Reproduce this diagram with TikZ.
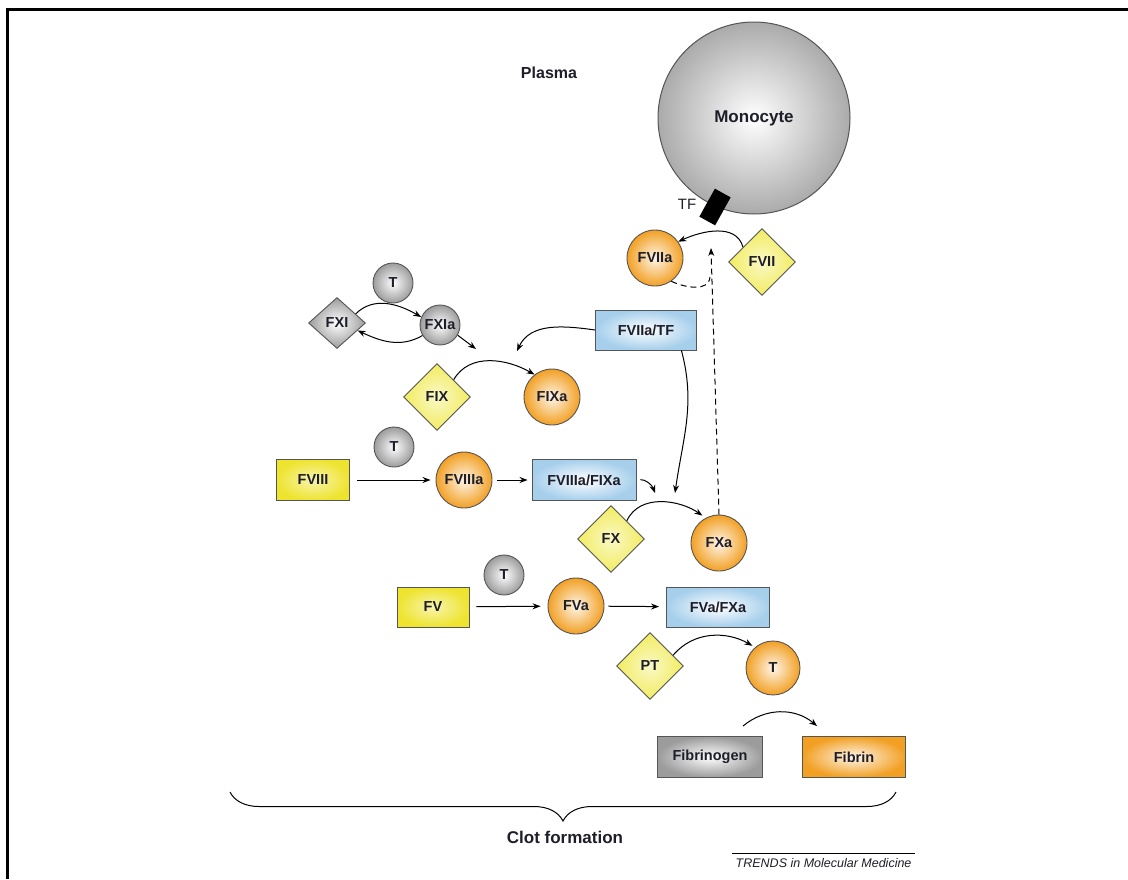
\documentclass[tikz,border=0pt]{standalone}
\usepackage{fontspec}
\setmainfont{Liberation Sans}
\usetikzlibrary{shapes.geometric,arrows.meta,decorations.pathreplacing}
\definecolor{yel}{HTML}{EEE430}
\definecolor{yeld}{HTML}{F2EC60}
\definecolor{org}{HTML}{F2A024}
\definecolor{blu}{HTML}{A6CFEC}
\definecolor{gry}{HTML}{9C9C9C}
\definecolor{edge}{HTML}{555555}
\definecolor{ink}{HTML}{1E1E2A}
\tikzset{
  lbl/.style={font=\fontsize{14.5}{16}\selectfont\bfseries, text=ink},
  ocirc/.style={lbl, circle, draw=edge, line width=0.9pt, minimum size=56pt, inner sep=0pt, inner color=org!10, outer color=org},
  gcirc/.style={lbl, circle, draw=edge, line width=0.9pt, minimum size=40pt, inner sep=0pt, inner color=white, outer color=gry},
  ybox/.style={lbl, rectangle, draw=edge, line width=0.9pt, minimum width=73pt, minimum height=41pt, inner color=yel!40, outer color=yel},
  bbox/.style={lbl, rectangle, draw=edge, line width=0.9pt, minimum width=103pt, minimum height=40pt, inner color=white, outer color=blu},
  ydia/.style={lbl, diamond, draw=edge, line width=0.9pt, minimum width=67pt, minimum height=67pt, inner sep=0pt, inner color=yeld!35, outer color=yeld},
  gdia/.style={lbl, diamond, draw=edge, line width=0.9pt, minimum width=57pt, minimum height=51pt, inner sep=0pt, inner color=white, outer color=gry},
  arr/.style={draw=black, line width=1pt, -{Stealth[length=8pt,width=6pt]}},
  darr/.style={arr, dashed, dash pattern=on 6pt off 4pt},
}
\begin{document}
\begin{tikzpicture}[x=1pt,y=-1pt]
\useasboundingbox (0,0) rectangle (1128,879);
% frame
\coordinate (fr1) at (7,879);
\coordinate (fr2) at (7,9.5);
\coordinate (fr3) at (1128,9.5);
\draw[line width=3pt] (fr1) -- (fr2) -- (fr3);

\node[font=\fontsize{16}{18}\selectfont\bfseries, text=ink] (plasma) at (549,73) {Plasma};

% monocyte
\node[circle, draw=edge, line width=1pt, minimum size=192pt, inner color=white, outer color=gry!85, font=\fontsize{17}{19}\selectfont\bfseries, text=ink] (mono) at (754,118) {Monocyte};
\node[fill=black, minimum width=18pt, minimum height=32pt, inner sep=0pt, rotate=-29] (tf) at (715,207) {};
\node[font=\fontsize{15}{17}\selectfont, text=ink] (tflbl) at (687,204) {TF};

% nodes
\node[ocirc] (fviia) at (655,258) {FVIIa};
\node[ydia] (fvii) at (762,262) {FVII};
\node[bbox, minimum width=101pt] (vtf) at (646,330) {FVIIa/TF};

\node[gcirc] (t1) at (393,283) {T};
\node[gdia] (fxi) at (337,323) {FXI};
\node[gcirc] (fxia) at (440,325) {FXIa};
\node[ydia] (fix) at (437,397) {FIX};
\node[ocirc] (fixa) at (552,397) {FIXa};

\node[gcirc] (t2) at (394,447) {T};
\node[ybox] (fviii) at (313,480) {FVIII};
\node[ocirc] (fviiia) at (464,480) {FVIIIa};
\node[bbox, minimum width=104pt, minimum height=41pt] (vf8) at (584,480) {FVIIIa/FIXa};
\node[ydia] (fx) at (611,539) {FX};
\node[ocirc] (fxa) at (719,543) {FXa};

\node[gcirc] (t3) at (504,575) {T};
\node[ybox, minimum width=72pt, minimum height=40pt] (fv) at (433,607) {FV};
\node[ocirc] (fva) at (576,606) {FVa};
\node[bbox] (vf5) at (718,607) {FVa/FXa};
\node[ydia] (pt) at (650,666) {PT};
\node[ocirc, minimum size=54pt] (t4) at (773,668) {T};

\node[lbl, rectangle, draw=edge, line width=0.9pt, minimum width=105pt, minimum height=41pt, inner color=white, outer color=gry] (fbg) at (710,757) {Fibrinogen};
\node[lbl, rectangle, draw=edge, line width=0.9pt, minimum width=103pt, minimum height=41pt, inner color=org!10, outer color=org] (fib) at (854,757) {Fibrin};

% free ends
\coordinate (c9) at (517,351);
\coordinate (c11) at (476,349);
\coordinate (c10) at (675,493);
\coordinate (c10b) at (655,493);
\coordinate (vtip) at (711,248);
\coordinate (vj) at (710,277);

% connectors
\draw[arr] (fvii.142) to[out=105,in=25] (fviia.35);
\draw[dashed, dash pattern=on 6pt off 4pt, line width=1pt] (fviia.-55) to[out=-25,in=-95] (vj);
\draw[darr] (fxa.north) -- (vtip);

\draw[arr] (vtf.west) to[out=172,in=65] (c9);
\draw[arr] (vtf.-30) to[out=-75,in=82] (c10);

\draw[arr] (fxi.26) to[out=45,in=150] (fxia.157);
\draw[arr] (fxia.211) to[out=-150,in=-25] (fxi.-20);
\draw[arr] (fxia.-30) -- (c11);
\draw[arr] (fix.46) to[out=60,in=150] (fixa.128);

\draw[arr, shorten <=7pt, shorten >=5pt] (fviii) -- (fviiia);
\draw[arr, shorten <=5pt, shorten >=4pt] (fviiia) -- (vf8);
\draw[arr, shorten <=4pt] (vf8.east) to[out=5,in=110] (c10b);
\draw[arr, shorten >=4pt] (fx.49) to[out=65,in=145] (fxa.118);

\draw[arr, shorten <=7pt, shorten >=7pt] (fv) -- (fva);
\draw[arr, shorten <=4pt, shorten >=7pt] (fva) -- (vf5);
\draw[arr, shorten >=3pt] (pt.25) to[out=50,in=150] (t4.131);

\draw[arr] ([shift={(33pt,10pt)}]fbg.north) to[out=40,in=140] ([shift={(15pt,10pt)}]fib.north west);

% brace
\coordinate (br1) at (230,792);
\coordinate (br2) at (896,792);
\draw[line width=1pt, decorate, decoration={brace, mirror, amplitude=29pt, aspect=0.5}] (br1) -- (br2);
\node[font=\fontsize{17}{19}\selectfont\bfseries, text=ink] (clot) at (565,837) {Clot formation};

% credit
\node[font=\fontsize{12.5}{14}\selectfont\itshape, text=ink, anchor=east] (trends) at (915,863) {TRENDS in Molecular Medicine};
\draw[line width=0.8pt] (trends.north west) ++(0,-1) coordinate (tl) (trends.north east) ++(0,-1) coordinate (tr);
\draw[line width=0.8pt] (tl) -- (tr);
\end{tikzpicture}
\end{document}
